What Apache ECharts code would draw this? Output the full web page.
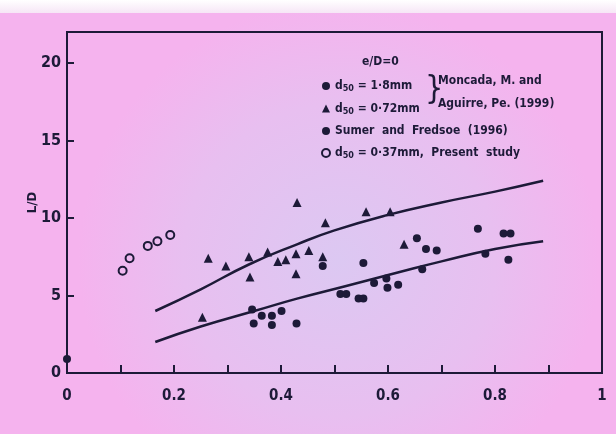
<!DOCTYPE html>
<html>
<head>
    <meta charset="utf-8">
    <title>L/D scatter</title>
    <style>
        html, body { margin: 0; padding: 0; background: #f3b6ee; }
        #main { width: 616px; height: 434px; }
    </style>
</head>
<body>
    <div id="main"></div>
    <script src="https://cdn.jsdelivr.net/npm/echarts@6/dist/echarts.min.js"></script>
    <script>
    // x tick values and y tick labels
    var xTicks = [0, 0.2, 0.4, 0.6, 0.8, 1];
    var yTicks = [0, 5, 10, 15, 20];

    // d50 = 1.8mm (Moncada & Aguirre)
    var coarse = [
        [0.346, 4.1], [0.349, 3.2], [0.364, 3.7], [0.383, 3.7], [0.383, 3.1],
        [0.401, 4.0], [0.429, 3.2], [0.511, 5.1], [0.522, 5.1], [0.545, 4.8],
        [0.554, 4.8], [0.574, 5.8], [0.597, 6.1], [0.599, 5.5], [0.619, 5.7],
        [0.478, 6.9], [0.0, 0.9]
    ];
    // d50 = 0.72mm (Moncada & Aguirre)
    var medium = [
        [0.253, 3.6], [0.264, 7.4], [0.297, 6.9], [0.340, 7.5], [0.342, 6.2],
        [0.375, 7.8], [0.394, 7.2], [0.409, 7.3], [0.428, 7.7], [0.428, 6.4],
        [0.452, 7.9], [0.478, 7.5], [0.483, 9.7], [0.559, 10.4], [0.604, 10.4],
        [0.630, 8.3], [0.430, 11.0]
    ];
    // Sumer and Fredsoe (1996)
    var sumer = [
        [0.554, 7.1], [0.654, 8.7], [0.664, 6.7], [0.671, 8.0], [0.691, 7.9],
        [0.768, 9.3], [0.782, 7.7], [0.816, 9.0], [0.829, 9.0], [0.825, 7.3]
    ];
    // d50 = 0.37mm, present study
    var present = [
        [0.104, 6.6], [0.117, 7.4], [0.151, 8.2], [0.169, 8.5], [0.193, 8.9]
    ];
    // envelope curves
    var upperCurve = [
        [0.165, 4.0], [0.25, 5.4], [0.34, 7.0], [0.43, 8.3], [0.5, 9.2],
        [0.6, 10.2], [0.7, 11.0], [0.8, 11.7], [0.89, 12.4]
    ];
    var lowerCurve = [
        [0.165, 2.0], [0.25, 3.0], [0.35, 4.0], [0.43, 4.8], [0.52, 5.6],
        [0.62, 6.5], [0.7, 7.2], [0.8, 8.0], [0.89, 8.5]
    ];

    var ink = '#1d1a38';
    var font = 'DejaVu Sans Condensed';

    var myChart = echarts.init(document.getElementById('main'));

    var legendNames = {
        coarse: 'd{s|50} = 1·8mm',
        medium: 'd{s|50} = 0·72mm',
        sumer: 'Sumer  and  Fredsoe  (1996)',
        present: 'd{s|50} = 0·37mm,  Present  study'
    };

    var option = {
        backgroundColor: {
            type: 'radial', x: 0.55, y: 0.6, r: 0.6,
            colorStops: [
                {offset: 0, color: '#dcc8f2'},
                {offset: 0.6, color: '#e8bff0'},
                {offset: 1, color: '#f5b3ee'}
            ]
        },
        animation: false,
        grid: {
            left: 67, right: 14, top: 32, bottom: 61,
            show: true, borderColor: ink, borderWidth: 2,
            backgroundColor: 'transparent'
        },
        legend: {
            orient: 'vertical',
            left: 316, top: 74,
            itemGap: 8, itemWidth: 8, itemHeight: 8,
            data: [
                {name: 'coarse', icon: 'circle'},
                {name: 'medium', icon: 'triangle'},
                {name: 'sumer', icon: 'circle'},
                {name: 'present', icon: 'circle'}
            ],
            formatter: function (n) { return legendNames[n]; },
            textStyle: {
                color: ink, fontFamily: font, fontWeight: 'bold', fontSize: 12, lineHeight: 14,
                rich: {s: {fontSize: 9, fontFamily: font, fontWeight: 'bold', color: ink, padding: [6, 0, 0, 0]}}
            }
        },
        graphic: [
            {type: 'rect', left: 0, top: 0, shape: {width: 616, height: 13},
                style: {fill: {type: 'linear', x: 0, y: 0, x2: 0, y2: 1,
                    colorStops: [{offset: 0, color: '#ffffff'}, {offset: 1, color: '#f6e6f6'}]}}},
            {type: 'text', left: 362, top: 56,
                style: {text: 'e/D=0', fill: ink, font: 'bold 12px "' + font + '"'}},
            {type: 'text', left: 425, top: 74,
                style: {text: '}', fill: ink, font: '32px "' + font + '"'}},
            {type: 'text', left: 438, top: 75,
                style: {text: 'Moncada, M. and', fill: ink, font: 'bold 12px "' + font + '"'}},
            {type: 'text', left: 438, top: 98,
                style: {text: 'Aguirre, Pe. (1999)', fill: ink, font: 'bold 12px "' + font + '"'}}
        ],
        xAxis: {
            type: 'value', min: 0, max: 1, interval: 0.1,
            axisLine: {lineStyle: {color: ink, width: 2}},
            axisTick: {inside: true, length: 8, lineStyle: {color: ink, width: 2}},
            splitLine: {show: false},
            axisLabel: {
                color: ink, fontFamily: font, fontWeight: 'bold', fontSize: 15, margin: 16,
                formatter: function (v) {
                    var r = Math.round(v * 10) / 10;
                    return xTicks.indexOf(r) >= 0 ? String(r) : '';
                }
            }
        },
        yAxis: {
            type: 'value', min: 0, max: 22, interval: 5,
            name: 'L/D', nameLocation: 'middle', nameRotate: 90, nameGap: 28,
            nameMoveOverlap: false,
            nameTextStyle: {color: ink, fontFamily: font, fontWeight: 'bold', fontSize: 13},
            axisLine: {lineStyle: {color: ink, width: 2}},
            axisTick: {inside: true, length: 7, lineStyle: {color: ink, width: 2}},
            splitLine: {show: false},
            axisLabel: {
                color: ink, fontFamily: font, fontWeight: 'bold', fontSize: 16, margin: 6,
                showMaxLabel: false,
                formatter: function (v) { return yTicks.indexOf(v) >= 0 ? String(v) : ''; }
            }
        },
        series: [
            {name: 'upper', type: 'line', data: upperCurve, smooth: true, showSymbol: false,
                lineStyle: {color: ink, width: 2.5}},
            {name: 'lower', type: 'line', data: lowerCurve, smooth: true, showSymbol: false,
                lineStyle: {color: ink, width: 2.5}},
            {name: 'coarse', type: 'scatter', data: coarse, symbol: 'circle', symbolSize: 8,
                itemStyle: {color: ink, opacity: 1}},
            {name: 'medium', type: 'scatter', data: medium, symbol: 'triangle', symbolSize: 9,
                itemStyle: {color: ink, opacity: 1}},
            {name: 'sumer', type: 'scatter', data: sumer, symbol: 'circle', symbolSize: 8,
                itemStyle: {color: ink, opacity: 1}},
            {name: 'present', type: 'scatter', data: present, symbol: 'circle', symbolSize: 8,
                itemStyle: {color: 'rgba(0,0,0,0)', borderColor: ink, borderWidth: 2, opacity: 1}}
        ]
    };

    myChart.setOption(option);
    </script>
</body>
</html>
